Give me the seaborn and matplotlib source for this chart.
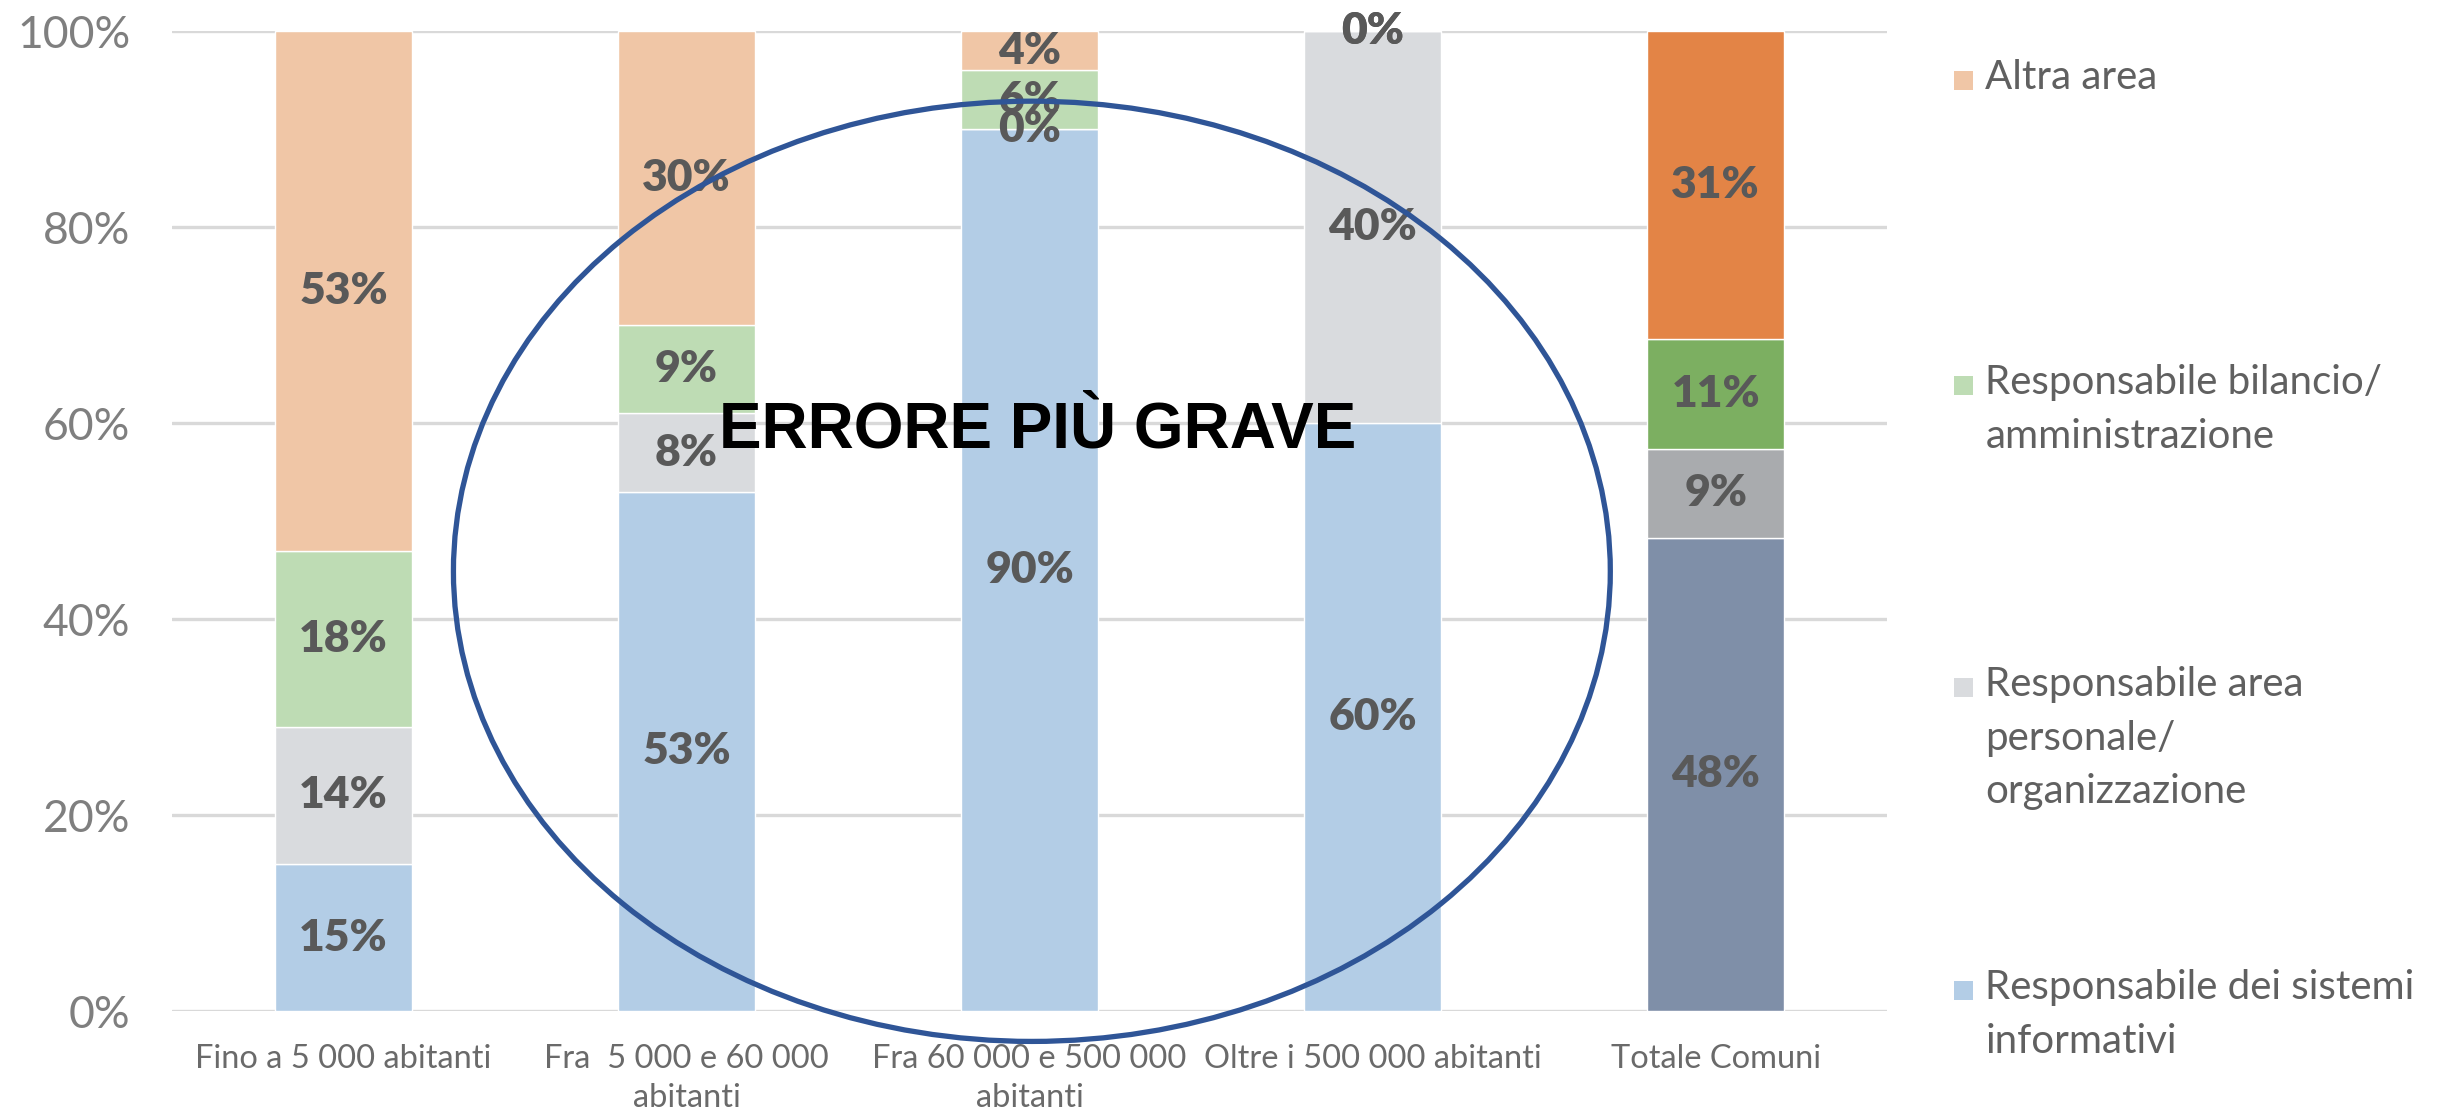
import matplotlib
matplotlib.use("Agg")
import matplotlib.pyplot as plt
import seaborn as sns
from matplotlib.patches import Ellipse, Rectangle
from matplotlib.ticker import PercentFormatter

# Categories (x axis)
categories = ["Fino a 5 000 abitanti", "Fra  5 000 e 60 000\nabitanti",
              "Fra 60 000 e 500 000\nabitanti", "Oltre i 500 000 abitanti",
              "Totale Comuni"]

# Series, bottom to top (percent)
sistemi = [15, 53, 90, 60, 48.3]
personale = [14, 8, 0, 40, 9.1]
bilancio = [18, 9, 6, 0, 11.2]
altra = [53, 30, 4, 0, 31.4]

series_names = ["Responsabile dei sistemi\ninformativi",
                "Responsabile area\npersonale/\norganizzazione",
                "Responsabile bilancio/\namministrazione",
                "Altra area"]
light_colors = ["#B3CDE6", "#D9DBDE", "#BEDCB4", "#F0C6A6"]
dark_colors = ["#7F8FA8", "#A9ABAE", "#7CAF61", "#E38446"]

sns.set_style("white")
plt.rcParams["font.family"] = ["Lato", "DejaVu Sans"]

fig = plt.figure(figsize=(24.51, 11.18), dpi=100)
ax = fig.add_axes([0.0702, 0.0957, 0.6998, 0.8763])

# Stacked bars
bottom = [0] * len(categories)
for vals, light, dark in zip([sistemi, personale, bilancio, altra], light_colors, dark_colors):
    sns.barplot(x=categories, y=vals, bottom=bottom, color=light, width=0.4,
                saturation=1, errorbar=None, ax=ax, zorder=2)
    ax.patches[-1].set_facecolor(dark)
    for i, v in enumerate(vals):
        ax.text(i, bottom[i] + v / 2, f"{v:.0f}%", ha="center", va="center",
                fontsize=32, fontweight="heavy", color="#595959", zorder=3)
    bottom = [b + v for b, v in zip(bottom, vals)]

ax.set_xlim(-0.5, 4.5)
ax.set_ylim(0, 100)
ax.set_yticks([0, 20, 40, 60, 80, 100])
ax.yaxis.set_major_formatter(PercentFormatter(decimals=0))
ax.yaxis.grid(True, color="#D9D9D9", linewidth=2.4, zorder=0)
ax.set_axisbelow(True)
for s in ax.spines.values():
    s.set_visible(False)
ax.tick_params(axis="y", length=0, pad=30, labelsize=32, labelcolor="#7F7F7F")
ax.tick_params(axis="x", length=0, pad=24, labelsize=23.5, labelcolor="#6A6A6A")
for lab in ax.get_xticklabels():
    lab.set_linespacing(1.35)
ax.set_xlabel("")
ax.set_ylabel("")

# Legend (drawn by hand so the squares line up with the first line)
legend_y = [0.928, 0.655, 0.385, 0.114]
for name, col, y in zip(series_names[::-1], light_colors[::-1], legend_y):
    fig.patches.append(Rectangle((0.7972, y - 0.0085), 0.0078, 0.017,
                                 transform=fig.transFigure, facecolor=col,
                                 edgecolor="none"))
    fig.text(0.810, y + 0.019, name, ha="left", va="top", fontsize=29,
             color="#606060", linespacing=1.55)

# Annotation overlay
fig.patches.append(Ellipse((0.421, 0.489), 0.472, 0.841, transform=fig.transFigure,
                           fill=False, edgecolor="#2F5597", linewidth=3.8, zorder=5))
fig.text(0.4235, 0.615, "ERRORE PIÙ GRAVE", ha="center", va="center", fontsize=46,
         fontweight="bold", color="black",
         family=["Liberation Sans Narrow", "Liberation Sans", "DejaVu Sans"])

plt.savefig("out.png", dpi=100)
